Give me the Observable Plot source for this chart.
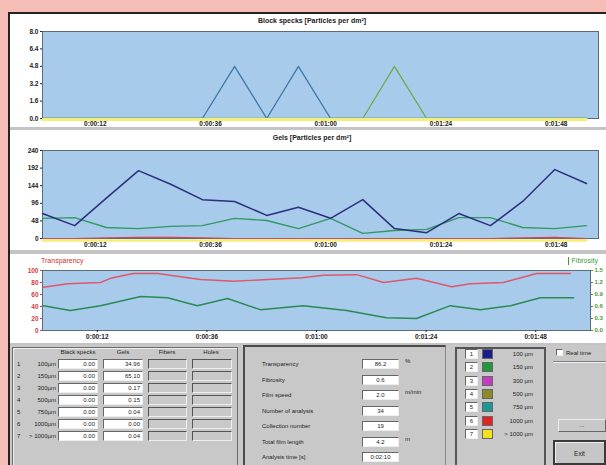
<!DOCTYPE html>
<html><head><meta charset="utf-8">
<script src="https://cdn.jsdelivr.net/npm/d3@7"></script>
<script src="https://cdn.jsdelivr.net/npm/@observablehq/plot@0.6"></script>
<style>
body{margin:0;background:#f6bdb6;width:606px;height:465px;overflow:hidden;position:relative;font-family:"Liberation Sans",Arial,sans-serif;color:#222;}
.a{position:absolute;box-sizing:border-box;}
.panel{position:absolute;background:#fff;overflow:hidden;}
.title{position:absolute;font-size:7px;font-weight:bold;white-space:nowrap;transform:translateX(-50%);}
.t{position:absolute;font-size:6px;white-space:nowrap;line-height:1;}
.inW{position:absolute;box-sizing:border-box;background:#fff;border-top:1px solid #666;border-left:1px solid #666;border-bottom:1px solid #eee;border-right:1px solid #eee;font-size:6px;text-align:right;padding-right:2px;line-height:8px;}
.inG{position:absolute;box-sizing:border-box;background:#c9c9c9;border-top:1px solid #555;border-left:1px solid #555;border-bottom:1px solid #eee;border-right:1px solid #eee;}
.grp{position:absolute;box-sizing:border-box;border:1px solid #6a6a6a;box-shadow:inset 1px 1px 0 #eee;}
</style></head><body>
<div class="a" style="left:8px;top:12px;width:600px;height:455px;background:#c4c4c4;border-top:2px solid #222;border-left:2px solid #222;"></div>
<div class="panel" style="left:10px;top:14px;width:596px;height:113px;" id="p1"></div>
<div class="panel" style="left:10px;top:130px;width:596px;height:120px;" id="p2"></div>
<div class="panel" style="left:10px;top:254px;width:596px;height:89px;" id="p3"></div>
<div id="bottom"></div>
<script>
// ---------- data ----------
const sampleTimes = [1, 7.7, 14.3, 21, 27.7, 34.3, 41, 47.7, 54.3, 61, 67.7, 74.3, 81, 87.7, 94.3, 101, 107.7, 114.3];
const specksBlue  = [0, 0, 0, 0, 0, 0, 4.8, 0, 4.8, 0, 0, 0, 0, 0, 0, 0, 0, 0];
const specksGreen = [0, 0, 0, 0, 0, 0, 0, 0, 0, 0, 0, 4.8, 0, 0, 0, 0, 0, 0];
const specksYellow= [0, 0, 0, 0, 0, 0, 0, 0, 0, 0, 0, 0, 0, 0, 0, 0, 0, 0];
const gelsNavy  = [68, 35, 110, 185, 148, 106, 101, 63, 85, 55, 106, 27, 16, 68, 35, 101, 188, 150];
const gelsGreen = [55, 57, 30, 27, 33, 35, 55, 49, 27, 55, 14, 22, 25, 57, 57, 30, 27, 35];
const gelsRed   = [0, 0, 2, 3, 3, 2, 0, 0, 0, 0, 0, 0, 0, 0, 0, 2, 3, 0];
const gelsYellow= [0, 0, 0, 0, 0, 0, 0, 0, 0, 0, 0, 0, 0, 0, 0, 0, 0, 0];
const transTimes = [0.2, 5.5, 12.7, 14.9, 19.9, 25.2, 31.8, 34.6, 41.8, 49.3, 56.9, 61.5, 68.8, 74.7, 81.9, 89.6, 93.7, 100.9, 108.2, 115.6];
const transValues = [72, 78, 80, 87, 95, 95, 88, 85, 82, 85, 88, 92, 93, 80, 87, 73, 78, 80, 95, 95];
const fibTimes = [0.2, 6.1, 12.7, 21.5, 27.4, 33.9, 40.5, 47.7, 57.1, 66.6, 75.3, 81.9, 89.3, 95.9, 102.5, 109, 116.3];
const fibValues = [0.62, 0.5, 0.62, 0.85, 0.82, 0.62, 0.8, 0.52, 0.62, 0.5, 0.32, 0.3, 0.62, 0.52, 0.62, 0.82, 0.82];
const xTicks = [12, 36, 60, 84, 108];
const xTickLabels = ["0:00:12", "0:00:36", "0:01:00", "0:01:24", "0:01:48"];
const specksTicks = [0, 1.6, 3.2, 4.8, 6.4, 8.0];
const specksTickLabels = ["0.0", "1.6", "3.2", "4.8", "6.4", "8.0"];
const gelsTicks = [0, 48, 96, 144, 192, 240];
const transTicks = [0, 20, 40, 60, 80, 100];
const fibTicks = [0, 0.3, 0.6, 0.9, 1.2, 1.5];
const fibTickLabels = ["0.0", "0.3", "0.6", "0.9", "1.2", "1.5"];

const sizeClasses = ["100µm", "150µm", "300µm", "500µm", "750µm", "1000µm", "> 1000µm"];
const specksCounts = ["0.00", "0.00", "0.00", "0.00", "0.00", "0.00", "0.00"];
const gelsCounts = ["34.96", "65.10", "0.17", "0.15", "0.04", "0.00", "0.04"];
const tableHeaders = ["Black specks", "Gels", "Fibers", "Holes"];
const infoLabels = ["Transparency", "Fibrosity", "Film speed", "Number of analysis", "Collection number", "Total film length", "Analysis time [s]"];
const infoValues = ["86.2", "0.6", "2.0", "34", "19", "4.2", "0:02:10"];
const infoUnits = ["%", "", "m/min", "", "", "m", ""];
const legendNumbers = ["1", "2", "3", "4", "5", "6", "7"];
const legendColors = ["#1c1c88", "#1f9a3a", "#c23cc2", "#8a8a2a", "#1a9898", "#e02424", "#f2e21e"];
const legendLabels = ["100 µm", "150 µm", "300 µm", "500 µm", "750 µm", "1000 µm", "> 1000 µm"];

// ---------- charts ----------
const plotBg = "#a8caeb";
const axStyle = {fontFamily: "Liberation Sans, Arial, sans-serif", fontSize: "6.5px", fontWeight: "bold", background: "transparent", overflow: "visible"};
const xLab = (d) => xTickLabels[xTicks.indexOf(d)];

function addTitle(panel, text, x, y, color, align) {
  const el = document.createElement("div");
  el.className = "title";
  el.textContent = text;
  el.style.left = x + "px"; el.style.top = y + "px";
  if (color) el.style.color = color;
  if (align === "left") el.style.transform = "none";
  if (align === "right") el.style.transform = "translateX(-100%)";
  el.style.fontWeight = align ? "normal" : "bold";
  document.getElementById(panel).appendChild(el);
}

const c1 = Plot.plot({
  width: 596, height: 113, marginLeft: 32, marginRight: 8, marginTop: 17, marginBottom: 9,
  style: axStyle,
  x: {domain: [1, 116.8]}, y: {domain: [0, 8]},
  marks: [
    Plot.frame({fill: plotBg, stroke: "#5a6b7a"}),
    Plot.line(sampleTimes, {x: d => d, y: (d, i) => specksBlue[i], stroke: "#3c79a6", strokeWidth: 1.3}),
    Plot.line(sampleTimes, {x: d => d, y: (d, i) => specksGreen[i], stroke: "#6aac4e", strokeWidth: 1.3}),
    Plot.line(sampleTimes, {x: d => d, y: (d, i) => specksYellow[i], stroke: "#f4ee7a", strokeWidth: 3, dy: 1}),
    Plot.axisX({ticks: xTicks, tickFormat: xLab, tickSize: 0, tickPadding: 3, label: null}),
    Plot.axisY({ticks: specksTicks, tickFormat: (d) => specksTickLabels[specksTicks.indexOf(d)], tickSize: 2, tickPadding: 2, label: null})
  ]
});
document.getElementById("p1").appendChild(c1);
addTitle("p1", "Block specks [Particles per dm²]", 302, 3);

const c2 = Plot.plot({
  width: 596, height: 120, marginLeft: 32, marginRight: 8, marginTop: 20, marginBottom: 12,
  style: axStyle,
  x: {domain: [1, 116.8]}, y: {domain: [0, 240]},
  marks: [
    Plot.frame({fill: plotBg, stroke: "#5a6b7a"}),
    Plot.line(sampleTimes, {x: d => d, y: (d, i) => gelsGreen[i], stroke: "#2f9a62", strokeWidth: 1.4}),
    Plot.line(sampleTimes, {x: d => d, y: (d, i) => gelsNavy[i], stroke: "#2b2f7e", strokeWidth: 1.5}),
    Plot.line(sampleTimes, {x: d => d, y: (d, i) => gelsYellow[i], stroke: "#f4ee7a", strokeWidth: 2.5, dy: 2}),
    Plot.line(sampleTimes, {x: d => d, y: (d, i) => gelsRed[i], stroke: "#d2485a", strokeWidth: 1.2}),
    Plot.axisX({ticks: xTicks, tickFormat: xLab, tickSize: 0, tickPadding: 4, label: null}),
    Plot.axisY({ticks: gelsTicks, tickSize: 2, tickPadding: 2, label: null})
  ]
});
document.getElementById("p2").appendChild(c2);
addTitle("p2", "Gels [Particles per dm²]", 302, 4);

const fibToY = (v) => v * 100 / 1.5;
const c3 = Plot.plot({
  width: 596, height: 89, marginLeft: 32, marginRight: 16, marginTop: 16, marginBottom: 13,
  style: axStyle,
  x: {domain: [0, 120]}, y: {domain: [0, 100]},
  marks: [
    Plot.frame({fill: plotBg, stroke: "#5a6b7a"}),
    Plot.line(transTimes, {x: d => d, y: (d, i) => transValues[i], stroke: "#e0566a", strokeWidth: 1.4}),
    Plot.line(fibTimes, {x: d => d, y: (d, i) => fibToY(fibValues[i]), stroke: "#2a8a52", strokeWidth: 1.4}),
    Plot.axisX({ticks: xTicks, tickFormat: xLab, tickSize: 2, tickPadding: 2, label: null}),
    Plot.axisY({ticks: transTicks, tickSize: 2, tickPadding: 2, label: null, color: "#d04040"}),
    Plot.axisY(fibTicks.map(fibToY), {anchor: "right", tickFormat: (d) => fibTickLabels[fibTicks.map(fibToY).indexOf(d)], tickSize: 2, tickPadding: 2, fontSize: 6, label: null, color: "#4a9a3a"})
  ]
});
document.getElementById("p3").appendChild(c3);
addTitle("p3", "Transparency", 31, 3, "#d03030", "left");
addTitle("p3", "Fibrosity", 588, 3, "#3a9a3a", "right");
(function(){ const b = document.createElement("div"); b.className="a"; b.style.cssText="left:558px;top:3px;width:1px;height:8px;background:#3a9a3a;"; document.getElementById("p3").appendChild(b); })();

// ---------- control panel ----------
const bot = document.getElementById("bottom");
function add(cls, css, text) {
  const el = document.createElement("div");
  el.className = cls; el.style.cssText = css;
  if (text !== undefined) el.textContent = text;
  bot.appendChild(el); return el;
}
add("a", "left:10px;top:345px;width:596px;height:120px;background:#c8c8c8;");
add("grp", "left:12px;top:347px;width:226px;height:120px;");
const headerCenters = [78, 123, 167, 211];
tableHeaders.forEach((h, i) => add("t", `left:${headerCenters[i]}px;top:349px;transform:translateX(-50%);`, h));
sizeClasses.forEach((s, i) => {
  const cy = 364 + 12 * i;
  add("t", `left:17px;top:${cy - 3}px;`, String(i + 1));
  add("t", `left:56px;top:${cy - 3}px;transform:translateX(-100%);`, s);
  add("inW", `left:58px;top:${cy - 5}px;width:40px;height:10px;`, specksCounts[i]);
  add("inW", `left:103px;top:${cy - 5}px;width:40px;height:10px;`, gelsCounts[i]);
  add("inG", `left:148px;top:${cy - 5}px;width:39px;height:10px;`);
  add("inG", `left:192px;top:${cy - 5}px;width:40px;height:10px;`);
});

add("a", "left:243px;top:345px;width:203px;height:122px;border-top:2px solid #4a4a4a;border-left:2px solid #4a4a4a;border-right:1px solid #888;");
infoLabels.forEach((l, i) => {
  const cy = 364 + 15.5 * i;
  add("t", `left:262px;top:${cy - 3}px;`, l);
  add("inW", `left:362px;top:${cy - 5}px;width:37px;height:10px;text-align:center;padding:0;`, infoValues[i]);
  if (infoUnits[i]) add("t", `left:405px;top:${cy - 6}px;`, infoUnits[i]);
});

add("a", "left:455px;top:347px;width:91px;height:120px;border-top:2px solid #555;border-left:2px solid #555;border-right:2px solid #555;");
legendLabels.forEach((l, i) => {
  const cy = 354 + 13.3 * i;
  add("inW", `left:465px;top:${cy - 5}px;width:13px;height:10px;text-align:center;padding:0;`, legendNumbers[i]);
  add("a", `left:482px;top:${cy - 5}px;width:11px;height:10px;background:${legendColors[i]};border:1px solid #666;`);
  add("t", `left:533px;top:${cy - 3}px;transform:translateX(-100%);`, l);
});

add("inW", "left:556px;top:349px;width:7px;height:7px;");
add("t", "left:566px;top:350px;", "Real time");
add("a", "left:553px;top:361px;width:53px;height:2px;border-top:1px solid #808080;border-bottom:1px solid #eee;");
add("a", "left:558px;top:419px;width:48px;height:13px;background:#c8c8c8;border-top:1px solid #eee;border-left:1px solid #eee;border-bottom:1px solid #666;border-right:1px solid #666;font-size:6px;text-align:center;line-height:11px;", "...");
add("a", "left:553px;top:440px;width:53px;height:25px;background:#c6c6c6;border:2px solid #3a3a3a;box-shadow:inset 1px 1px 0 #eee;font-size:6.5px;text-align:center;line-height:24px;", "Exit");
</script>
</body></html>
